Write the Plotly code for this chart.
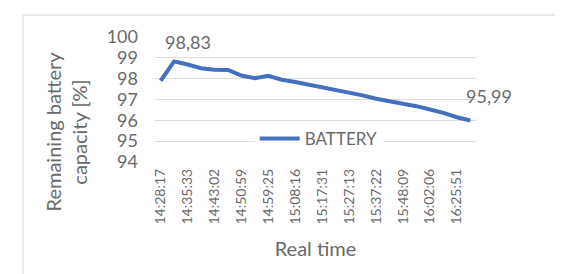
import plotly.graph_objects as go

# ---- data ----
tick_labels = ["14:28:17", "14:35:33", "14:43:02", "14:50:59", "14:59:25", "15:08:16",
               "15:17:31", "15:27:13", "15:37:22", "15:48:09", "16:02:06", "16:25:51"]
capacity = [97.90, 98.83, 98.68, 98.50, 98.43, 98.42, 98.15, 98.02, 98.14, 97.95,
            97.84, 97.72, 97.56, 97.44, 97.33, 97.20, 97.04, 96.92, 96.82, 96.68,
            96.52, 96.36, 96.15, 95.99]
series_name = "BATTERY"
y_ticks = [94, 95, 96, 97, 98, 99, 100]
y_title = "Remaining battery<br>capacity [%]"
x_title = "Real time"

x_idx = list(range(len(capacity)))
tick_pos = x_idx[::2]

FONT = "Lato"
GRAY = "#6a6a6a"
LINE = "#4470bd"

fig = go.Figure()
fig.add_trace(go.Scatter(
    x=x_idx, y=capacity, mode="lines", name=series_name,
    line=dict(color=LINE, width=4, shape="linear"),
))

# data labels for max and last point
imax = capacity.index(max(capacity))
ilast = len(capacity) - 1
for i, xs, ys in [(imax, 14, 19), (ilast, 19, 25)]:
    fig.add_annotation(x=x_idx[i], y=capacity[i],
                       text=f"{capacity[i]:.2f}".replace(".", ","),
                       showarrow=False, xshift=xs, yshift=ys,
                       font=dict(family=FONT, size=18, color=GRAY))

# y axis title (placed like the original, slightly below plot centre)
fig.add_annotation(text=y_title, xref="paper", yref="paper",
                   x=-0.277, y=0.245, xanchor="center", yanchor="middle",
                   textangle=-90, showarrow=False,
                   font=dict(family=FONT, size=20, color=GRAY))

# chart border
fig.add_shape(type="rect", xref="paper", yref="paper",
              x0=-0.411, x1=1.293, y0=-0.93, y1=1.176,
              line=dict(color="#e2e2e2", width=1.5), layer="below")

fig.update_layout(
    width=563, height=274,
    margin=dict(l=147, r=95, t=29, b=120),
    paper_bgcolor="white", plot_bgcolor="white",
    font=dict(family=FONT, color=GRAY),
    showlegend=True,
    legend=dict(x=0.51, y=0.185, xanchor="center", yanchor="middle",
                bgcolor="white", font=dict(family=FONT, size=17, color=GRAY),
                itemwidth=40, borderwidth=0),
    xaxis=dict(
        range=[-0.42, len(capacity) - 1 + 0.42],
        tickmode="array", tickvals=tick_pos, ticktext=tick_labels,
        tickangle=-90, tickfont=dict(family=FONT, size=14, color=GRAY),
        ticklabelstandoff=3,
        showgrid=False, zeroline=False, showline=False, ticks="",
        title=dict(text=x_title, font=dict(family=FONT, size=20, color=GRAY), standoff=18),
    ),
    yaxis=dict(
        range=[94, 100], tickmode="array", tickvals=y_ticks,
        tickfont=dict(family=FONT, size=18, color=GRAY),
        ticklabelstandoff=16,
        showgrid=True, gridcolor="#dcdcdc", gridwidth=1,
        zeroline=False, showline=False, ticks="",
    ),
)

fig.write_html("out.html")
